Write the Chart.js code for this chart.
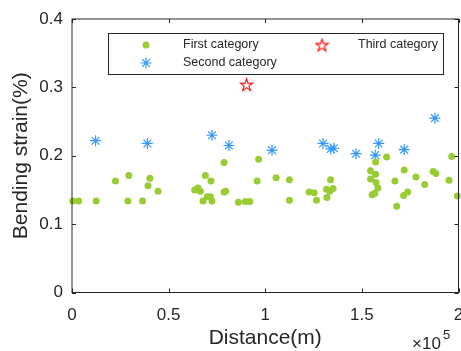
<!DOCTYPE html>
<html>
<head>
<meta charset="utf-8">
<script src="https://cdn.jsdelivr.net/npm/chart.js@4"></script>
<style>
html,body{margin:0;padding:0;background:#fff;}
#wrap{width:461px;height:351px;}
</style>
</head>
<body>
<div id="wrap"><canvas id="scatterChart" width="461" height="351"></canvas></div>
<script>
// DATA (distance in m, strain in %)

const firstX = [400,3400,12500,22500,29400,28900,36500,40300,39300,44500,
78700,69000,71900,63500,65200,66400,67800,70000,71600,72400,
78700,79500,86100,89700,92000,96600,95800,105600,112500,112500,
122700,125300,126500,133800,131700,133400,135100,131900,162800,157100,
196500,154500,157100,171900,154500,157300,167100,178000,182500,186900,
188300,195100,158300,156700,155300,173700,171600,168000,199400];
const firstY = [0.134,0.134,0.134,0.163,0.171,0.134,0.134,0.167,0.156,0.148,
0.190,0.171,0.163,0.150,0.153,0.148,0.134,0.140,0.140,0.134,
0.147,0.148,0.132,0.133,0.133,0.195,0.163,0.168,0.165,0.135,
0.147,0.146,0.135,0.165,0.151,0.148,0.152,0.139,0.198,0.191,
0.199,0.178,0.173,0.179,0.166,0.161,0.163,0.169,0.158,0.177,
0.174,0.164,0.153,0.145,0.143,0.147,0.142,0.126,0.141];

const secondX = [12200,39000,72400,81200,103500,129900,133900,135500,147000,158700,171900,156900,187800];
const secondY = [0.222,0.218,0.230,0.215,0.208,0.218,0.210,0.211,0.203,0.218,0.209,0.201,0.255];

const thirdX = [90300];
const thirdY = [0.304];

const seriesNames = ["First category","Second category","Third category"];
const xTicks = [0,50000,100000,150000,200000];
const yTicks = [0,0.1,0.2,0.3,0.4];

const AXIS = "#262626";
const FONT = "'Liberation Sans', Arial, sans-serif";

function toPoints(xs,ys){
return xs.map((x,i)=>({x:x,y:ys[i]}));
}

// red pentagram marker
function makePentagram(size,color){
let c = document.createElement("canvas");
c.width = size; c.height = size;
let g = c.getContext("2d");
let cx = size/2, cy = size/2+0.6, R = size/2-1, r = R*0.382;
g.beginPath();
for(let i=0;i<10;i++){
let rad = (i%2===0) ? R : r;
let a = -Math.PI/2 + i*Math.PI/5;
let px = cx + rad*Math.cos(a), py = cy + rad*Math.sin(a);
if(i===0) g.moveTo(px,py); else g.lineTo(px,py);
}
g.closePath();
g.strokeStyle = color;
g.lineWidth = 1.1;
g.stroke();
return c;
}
const pentagram = makePentagram(15,"#ff0000");

// box, inward ticks, x10^5, legend
const matlabAxes = {
id:"matlabAxes",
afterDraw(chart){
const ctx = chart.ctx;
const a = chart.chartArea;
const xs = chart.scales.x, ys = chart.scales.y;
ctx.save();
ctx.strokeStyle = AXIS;
ctx.lineWidth = 1;
ctx.strokeRect(a.left, a.top, a.right-a.left, a.bottom-a.top);
const tl = 4;
ctx.beginPath();
xTicks.forEach(v=>{
let px = Math.round(xs.getPixelForValue(v))+0.5;
ctx.moveTo(px,a.bottom); ctx.lineTo(px,a.bottom-tl);
ctx.moveTo(px,a.top); ctx.lineTo(px,a.top+tl);
});
yTicks.forEach(v=>{
let py = Math.round(ys.getPixelForValue(v))+0.5;
ctx.moveTo(a.left,py); ctx.lineTo(a.left+tl,py);
ctx.moveTo(a.right,py); ctx.lineTo(a.right-tl,py);
});
ctx.stroke();

// exponent label
ctx.fillStyle = AXIS;
ctx.textBaseline = "alphabetic";
ctx.textAlign = "left";
ctx.font = "17px " + FONT;
ctx.fillText("\u00d710", 412, 349);
ctx.font = "13px " + FONT;
ctx.fillText("5", 443, 339);

// legend
const lx = 108, ly = 33, lw = 335, lh = 41;
ctx.fillStyle = "#fff";
ctx.fillRect(lx,ly,lw,lh);
ctx.lineWidth = 1;
ctx.strokeStyle = AXIS;
ctx.strokeRect(lx+0.5,ly+0.5,lw,lh);
const ds = chart.data.datasets;
const pos = [[146,45,183],[146,63,183],[322,45,358]];
ctx.font = "12.5px " + FONT;
ctx.textBaseline = "middle";
ds.forEach((d,i)=>{
const p = pos[i];
ctx.fillStyle = d.backgroundColor;
ctx.strokeStyle = d.borderColor;
ctx.lineWidth = d.borderWidth;
Chart.helpers.drawPoint(ctx,{pointStyle:d.pointStyle,radius:d.pointRadius,rotation:0,borderWidth:d.borderWidth},p[0],p[1]);
ctx.fillStyle = AXIS;
ctx.fillText(d.label,p[2],p[1]);
});
ctx.restore();
}
};

new Chart(
document.getElementById("scatterChart"),
{
type:"scatter",
data:{
datasets:[{
label:seriesNames[0],
data:toPoints(firstX,firstY),
pointStyle:"circle",
pointRadius:3.5,
backgroundColor:"#99cc33",
borderColor:"#99cc33",
borderWidth:0,
clip:false
},{
label:seriesNames[1],
data:toPoints(secondX,secondY),
pointStyle:"star",
pointRadius:5.5,
backgroundColor:"#3399ff",
borderColor:"#3399ff",
borderWidth:1.2,
clip:false
},{
label:seriesNames[2],
data:toPoints(thirdX,thirdY),
pointStyle:pentagram,
pointRadius:7,
backgroundColor:"rgba(0,0,0,0)",
borderColor:"#ff0000",
borderWidth:1,
clip:false
}]
},
options:{
responsive:false,
animation:false,
events:[],
layout:{autoPadding:false,padding:{left:0,right:2.5,top:19,bottom:0}},
plugins:{
legend:{display:false},
tooltip:{enabled:false}
},
scales:{
x:{
type:"linear",
min:0,max:200000,
afterBuildTicks(s){ s.ticks = xTicks.map(v=>({value:v})); },
afterFit(s){ s.height = 58.5; s.paddingLeft = 0; s.paddingRight = 0; },
grid:{display:false,drawTicks:false},
border:{display:false},
ticks:{
color:AXIS,
padding:13,
font:{family:FONT,size:17},
callback:(v)=>String(v/100000),
maxRotation:0
},
title:{
display:true,
text:"Distance(m)",
color:AXIS,
font:{family:FONT,size:21},
padding:{top:0,bottom:0}
}
},
y:{
type:"linear",
min:0,max:0.4,
afterBuildTicks(s){ s.ticks = yTicks.map(v=>({value:v})); },
afterFit(s){ s.width = 72; s.paddingTop = 0; s.paddingBottom = 0; },
grid:{display:false,drawTicks:false},
border:{display:false},
ticks:{
color:AXIS,
padding:9,
font:{family:FONT,size:17},
callback:(v)=>String(Math.round(v*10)/10)
},
title:{
display:true,
text:"Bending strain(%)",
color:AXIS,
font:{family:FONT,size:21},
padding:{top:9,bottom:0}
}
}
}
},
plugins:[matlabAxes]
}
);
</script>
</body>
</html>
